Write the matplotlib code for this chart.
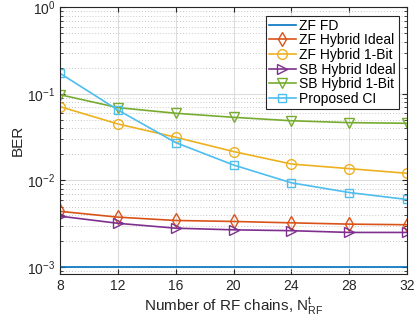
import numpy as np
import matplotlib
matplotlib.use("Agg")
import matplotlib.pyplot as plt

# data
n_rf = [8, 12, 16, 20, 24, 28, 32]
zf_fd = [1e-3] * 7
zf_hyb_ideal = [4.4e-3, 3.77e-3, 3.45e-3, 3.36e-3, 3.24e-3, 3.13e-3, 3.08e-3]
zf_hyb_1bit = [0.0713, 0.045, 0.0316, 0.0216, 0.0155, 0.0137, 0.0121]
sb_hyb_ideal = [3.87e-3, 3.2e-3, 2.81e-3, 2.69e-3, 2.63e-3, 2.51e-3, 2.51e-3]
sb_hyb_1bit = [0.098, 0.0695, 0.0598, 0.0537, 0.049, 0.0466, 0.0458]
proposed_ci = [0.173, 0.0653, 0.0274, 0.0151, 0.0094, 0.00726, 0.00603]

plt.rcParams['font.family'] = ['Liberation Sans', 'DejaVu Sans']
plt.rcParams['mathtext.default'] = 'regular'
plt.rcParams['font.size'] = 10

fig = plt.figure(figsize=(4.17, 3.22), dpi=100)
ax = fig.add_axes([0.144, 0.149, 0.832, 0.828])

lw = 1.2
ms = 7
ax.plot(n_rf, zf_fd, color='#0072BD', lw=lw, label='ZF FD')
ax.plot(n_rf, zf_hyb_ideal, color='#D95319', lw=lw, marker='d', ms=ms, mfc='none', mew=1.0, label='ZF Hybrid Ideal')
ax.plot(n_rf, zf_hyb_1bit, color='#EDB120', lw=lw, marker='o', ms=ms, mfc='none', mew=1.0, label='ZF Hybrid 1-Bit')
ax.plot(n_rf, sb_hyb_ideal, color='#7E2F8E', lw=lw, marker='>', ms=ms, mfc='none', mew=1.0, label='SB Hybrid Ideal')
ax.plot(n_rf, sb_hyb_1bit, color='#77AC30', lw=lw, marker='v', ms=ms, mfc='none', mew=1.0, label='SB Hybrid 1-Bit')
ax.plot(n_rf, proposed_ci, color='#4DBEEE', lw=lw, marker='s', ms=6, mfc='none', mew=1.0, label='Proposed CI')

ax.set_yscale('log')
ax.set_xlim(8, 32)
ax.set_ylim(8.3e-4, 1)
ax.set_xticks(n_rf)
ax.grid(True, which='major', color='#dcdcdc', lw=0.8)
ax.grid(True, which='minor', axis='y', color='#b4b4b4', lw=0.6, ls=(0, (1, 2.5)))
ax.set_axisbelow(True)
ax.tick_params(which='both', direction='in', top=True, right=True, colors='#262626', labelsize=10)
for s in ax.spines.values():
    s.set_color('#262626')
    s.set_linewidth(0.8)

ax.set_xlabel('Number of RF chains, N$^{t}_{RF}$', fontsize=11, color='#262626', labelpad=2)
ax.set_ylabel('BER', fontsize=11, color='#262626', labelpad=2)

leg = ax.legend(loc='upper right', fontsize=10, fancybox=False, framealpha=1,
                edgecolor='#262626', borderpad=0.2, labelspacing=0.05,
                handlelength=2.0, handletextpad=0.2, borderaxespad=0.6)
leg.get_frame().set_linewidth(0.8)

fig.savefig('out.png', dpi=100)
